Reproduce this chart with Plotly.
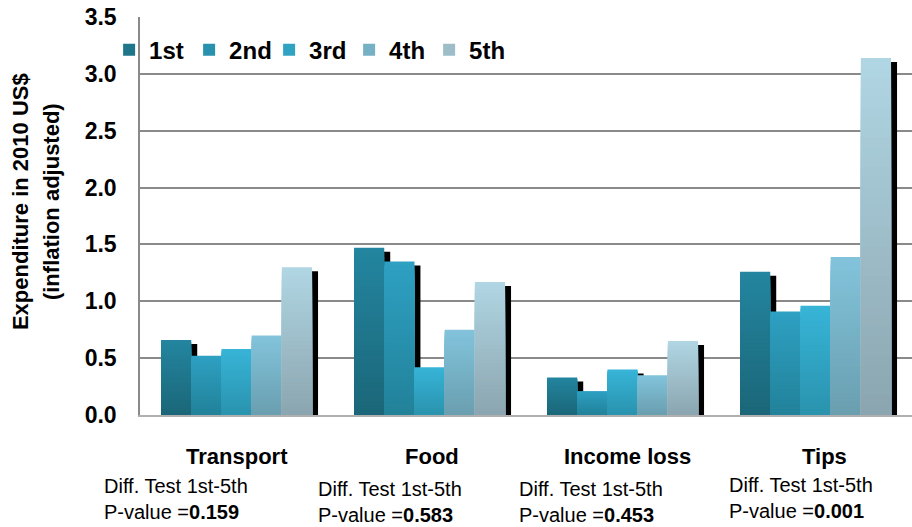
import plotly.graph_objects as go

# ---- data -------------------------------------------------------------
categories = ["Transport", "Food", "Income loss", "Tips"]
quintiles = ["1st", "2nd", "3rd", "4th", "5th"]
q1 = [0.66, 1.47, 0.33, 1.26]
q2 = [0.52, 1.35, 0.21, 0.91]
q3 = [0.58, 0.42, 0.40, 0.96]
q4 = [0.70, 0.75, 0.35, 1.39]
q5 = [1.30, 1.17, 0.65, 3.14]
series = [q1, q2, q3, q4, q5]
test_label = "Diff. Test 1st-5th"
p_values = ["0.159", "0.583", "0.453", "0.001"]
y_ticks = [0.0, 0.5, 1.0, 1.5, 2.0, 2.5, 3.0, 3.5]

# ---- styling ----------------------------------------------------------
top_colors = [(35, 133, 159), (46, 160, 194), (55, 180, 215), (130, 195, 219), (176, 213, 227)]
bottom_colors = [(27, 103, 121), (34, 130, 154), (42, 147, 174), (106, 159, 176), (139, 166, 176)]
FONT = "Liberation Sans, Arial, sans-serif"
BAR_W = 0.1565          # width of one bar in category units
GROUP_START = -0.391    # left edge of the first bar relative to category centre
SHADOW_DX = 0.031       # shadow shift to the right (category units)
SHADOW_DY = 0.035       # shadow drop (data units)
N_BANDS = 36            # steps used to render the vertical colour gradient


def mix(c1, c2, t):
    return "rgb(%d,%d,%d)" % tuple(round(a + (b - a) * t) for a, b in zip(c1, c2))


fig = go.Figure()

# drop shadows behind every bar
for qi, vals in enumerate(series):
    off = GROUP_START + qi * BAR_W + SHADOW_DX
    fig.add_trace(go.Bar(
        x=categories, y=[v - SHADOW_DY for v in vals],
        offset=off, width=BAR_W, marker=dict(color="black", line=dict(width=0)),
        showlegend=False, hoverinfo="skip"))

# gradient-filled bars: nested bars of decreasing height, darker toward the base
for qi, (name, vals) in enumerate(zip(quintiles, series)):
    off = GROUP_START + qi * BAR_W
    for k in range(N_BANDS):
        frac = 1 - k / N_BANDS
        fig.add_trace(go.Bar(
            x=categories, y=[v * frac for v in vals], name=name,
            offset=off, width=BAR_W,
            marker=dict(color=mix(top_colors[qi], bottom_colors[qi], k / (N_BANDS - 1)),
                        line=dict(width=0)),
            showlegend=(k == N_BANDS // 2), legendrank=qi + 1,
            hoverinfo="skip" if k else "y"))

# category captions and test results beneath the axis
name_dx = [0, 2, 5, 9]
text_dx = [-135, -114, -106, -89]
text_dy = [0, -3, -3, 1]
annotations = []
for i, cat in enumerate(categories):
    annotations.append(dict(
        x=cat, xref="x", y=0, yref="paper", yanchor="middle", xanchor="center",
        yshift=-41, xshift=name_dx[i], showarrow=False,
        text="<b>%s</b>" % cat, font=dict(family=FONT, size=22, color="black")))
    annotations.append(dict(
        x=cat, xref="x", y=0, yref="paper", yanchor="middle", xanchor="left",
        yshift=-71 + text_dy[i], xshift=text_dx[i], showarrow=False,
        text=test_label, font=dict(family=FONT, size=20, color="black")))
    annotations.append(dict(
        x=cat, xref="x", y=0, yref="paper", yanchor="middle", xanchor="left",
        yshift=-97 + text_dy[i], xshift=text_dx[i], showarrow=False,
        text="P-value =<b>%s</b>" % p_values[i], font=dict(family=FONT, size=20, color="black")))

# two-line rotated axis title
annotations.append(dict(
    x=0, xref="paper", y=0.535, yref="paper", xanchor="center", yanchor="middle",
    xshift=-120, textangle=-90, showarrow=False,
    text="<b>Expenditure in 2010 US$</b>", font=dict(family=FONT, size=22, color="black")))
annotations.append(dict(
    x=0, xref="paper", y=0.535, yref="paper", xanchor="center", yanchor="middle",
    xshift=-89, textangle=-90, showarrow=False,
    text="<b>(inflation adjusted)</b>", font=dict(family=FONT, size=22, color="black")))

fig.update_layout(
    width=912, height=527,
    margin=dict(l=140, r=0, t=17, b=112),
    paper_bgcolor="white", plot_bgcolor="white",
    barmode="overlay",
    font=dict(family=FONT, color="black"),
    showlegend=True,
    legend=dict(orientation="h", x=-0.040, xanchor="left", y=0.917, yanchor="middle",
                xref="paper", yref="paper", bgcolor="rgba(0,0,0,0)",
                font=dict(family=FONT, size=24, color="black", weight="bold"),
                entrywidth=35, entrywidthmode="pixels", traceorder="normal",
                itemclick=False, itemdoubleclick=False),
    xaxis=dict(range=[-0.5, 3.5], showticklabels=False, ticks="", showgrid=False,
               showline=True, linecolor="#b0b0b0", linewidth=2, zeroline=False,
               fixedrange=True),
    yaxis=dict(range=[0, 3.5], tickvals=y_ticks, tickformat=".1f",
               tickfont=dict(family=FONT, size=23, color="black", weight="bold"),
               ticks="", ticklabelstandoff=17,
               showgrid=True, gridcolor="#8a8a8a", gridwidth=1.5,
               showline=True, linecolor="#8a8a8a", linewidth=1.5, zeroline=False,
               fixedrange=True),
    annotations=annotations,
)

fig.write_html("out.html")
